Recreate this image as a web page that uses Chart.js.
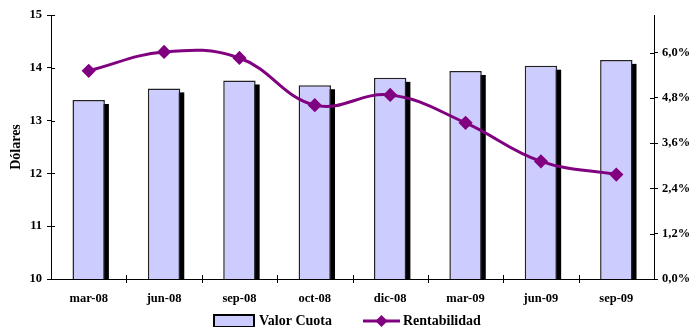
<!DOCTYPE html>
<html>
<head>
<meta charset="utf-8">
<script src="https://cdn.jsdelivr.net/npm/chart.js@4"></script>
<style>
  html, body { margin: 0; padding: 0; background: #fff; }
  #wrap { width: 691px; height: 327px; position: relative; }
</style>
</head>
<body>
<div id="wrap"><canvas id="c"></canvas></div>
<script>
// Periodos trimestrales
const periodos = ['mar-08', 'jun-08', 'sep-08', 'oct-08', 'dic-08', 'mar-09', 'jun-09', 'sep-09'];
// Valor cuota en dólares (eje izquierdo)
const valorCuota = [13.39, 13.61, 13.76, 13.67, 13.81, 13.94, 14.04, 14.15];
// Rentabilidad en % (eje derecho)
const rentabilidad = [5.52, 6.02, 5.86, 4.61, 4.88, 4.14, 3.12, 2.77];
// Marcas de los ejes
const ticksDolares = [10, 11, 12, 13, 14, 15];
const ticksRentabilidad = [0, 1.2, 2.4, 3.6, 4.8, 6.0];

const FONT = '"Liberation Serif", "Times New Roman", serif';
const PURPLE = '#800080';
const BAR_FILL = '#CCCCFF';
const TICK_FONT = { family: FONT, size: 12.5, weight: 'bold' };

// Sombra negra desplazada detrás de cada barra
const barShadow = {
  id: 'barShadow',
  beforeDatasetDraw(chart, args) {
    if (chart.data.datasets[args.index].type !== 'bar') return;
    const ctx = chart.ctx;
    const area = chart.chartArea;
    ctx.save();
    ctx.beginPath();
    ctx.rect(area.left, area.top, area.right - area.left, area.bottom - area.top);
    ctx.clip();
    ctx.fillStyle = '#000';
    args.meta.data.forEach(bar => {
      const p = bar.getProps(['x', 'y', 'base', 'width'], true);
      const left = p.x - p.width / 2 + 4;
      const top = p.y + 4;
      ctx.fillRect(left, top, p.width, p.base - top);
    });
    ctx.restore();
  }
};

// Marcas que cruzan los ejes
const crossTicks = {
  id: 'crossTicks',
  afterDraw(chart) {
    const ctx = chart.ctx;
    const { y, yR, x } = chart.scales;
    ctx.save();
    ctx.strokeStyle = '#000';
    ctx.lineWidth = 1;
    ctx.beginPath();
    y.ticks.forEach((t, i) => {
      const py = Math.round(y.getPixelForTick(i)) + 0.5;
      ctx.moveTo(y.right, py); ctx.lineTo(y.right + 4, py);
    });
    yR.ticks.forEach((t, i) => {
      const py = Math.round(yR.getPixelForTick(i)) + 0.5;
      ctx.moveTo(yR.left - 4, py); ctx.lineTo(yR.left, py);
    });
    const n = x.ticks.length;
    for (let i = 1; i < n; i++) {
      const px = Math.round((x.getPixelForTick(i - 1) + x.getPixelForTick(i)) / 2) + 0.5;
      ctx.moveTo(px, x.top - 4); ctx.lineTo(px, x.top + 4);
    }
    ctx.stroke();
    ctx.restore();
  }
};

// Leyenda inferior: muestra de barra y de línea con rombo
const legendBottom = {
  id: 'legendBottom',
  afterDraw(chart) {
    const ctx = chart.ctx;
    const cy = chart.height - 6;
    ctx.save();
    ctx.font = 'bold 14px ' + FONT;
    ctx.textBaseline = 'middle';
    const t1 = chart.data.datasets[1].label;
    const t2 = chart.data.datasets[0].label;
    const w1 = ctx.measureText(t1).width;
    const w2 = ctx.measureText(t2).width;
    const total = 40 + 5 + w1 + 31 + 37 + 3 + w2;
    let xx = Math.round((chart.width - total) / 2) + 2;
    // muestra de barra
    ctx.fillStyle = BAR_FILL;
    ctx.fillRect(xx, cy - 6, 40, 12);
    ctx.strokeStyle = '#000';
    ctx.lineWidth = 2;
    ctx.strokeRect(xx, cy - 6, 40, 12);
    xx += 45;
    ctx.fillStyle = '#000';
    ctx.fillText(t1, xx, cy);
    xx += w1 + 31;
    // muestra de línea
    ctx.strokeStyle = PURPLE;
    ctx.lineWidth = 3;
    ctx.beginPath(); ctx.moveTo(xx, cy); ctx.lineTo(xx + 37, cy); ctx.stroke();
    ctx.fillStyle = PURPLE;
    const mx = xx + 18.5;
    ctx.beginPath();
    ctx.moveTo(mx, cy - 6); ctx.lineTo(mx + 6, cy); ctx.lineTo(mx, cy + 6); ctx.lineTo(mx - 6, cy);
    ctx.closePath(); ctx.fill();
    xx += 40;
    ctx.fillStyle = '#000';
    ctx.fillText(t2, xx, cy);
    ctx.restore();
  }
};

new Chart(document.getElementById('c'), {
  data: {
    labels: periodos,
    datasets: [
      {
        type: 'line',
        label: 'Rentabilidad',
        data: rentabilidad,
        yAxisID: 'yR',
        borderColor: PURPLE,
        backgroundColor: PURPLE,
        borderWidth: 3,
        tension: 0.4,
        pointStyle: 'rectRot',
        pointRadius: 5,
        pointHoverRadius: 5,
        pointBackgroundColor: PURPLE,
        pointBorderColor: PURPLE,
        order: 0
      },
      {
        type: 'bar',
        label: 'Valor Cuota',
        data: valorCuota,
        yAxisID: 'y',
        backgroundColor: BAR_FILL,
        borderColor: '#222',
        borderWidth: 1.5,
        categoryPercentage: 1,
        barPercentage: 0.43,
        order: 1
      }
    ]
  },
  options: {
    responsive: true,
    maintainAspectRatio: false,
    animation: false,
    layout: { padding: { left: 0, right: 0, top: 15, bottom: 18 } },
    plugins: {
      tooltip: { enabled: false },
      legend: { display: false }
    },
    scales: {
      x: {
        offset: true,
        grid: { display: false, drawOnChartArea: false },
        border: { display: true, color: '#000', width: 1 },
        ticks: { color: '#000', font: TICK_FONT, padding: 4, maxRotation: 0 },
        afterFit(s) { s.height = 30; }
      },
      y: {
        position: 'left',
        min: 10,
        max: 15,
        afterBuildTicks(s) { s.ticks = ticksDolares.map(v => ({ value: v })); },
        grid: { drawOnChartArea: false, drawTicks: true, tickLength: 4, color: '#000' },
        border: { display: true, color: '#000', width: 1 },
        ticks: { color: '#000', font: TICK_FONT, padding: 5 },
        title: { display: true, text: 'Dólares', color: '#000', font: { family: FONT, size: 14, weight: 'bold' }, padding: { top: 8, bottom: 4 } },
        afterFit(s) { s.width = 51; }
      },
      yR: {
        position: 'right',
        min: 0,
        max: 7.0,
        afterBuildTicks(s) { s.ticks = ticksRentabilidad.map(v => ({ value: v })); },
        grid: { drawOnChartArea: false, drawTicks: true, tickLength: 4, color: '#000' },
        border: { display: true, color: '#000', width: 1 },
        ticks: {
          color: '#000',
          font: TICK_FONT,
          padding: 4,
          callback: v => v.toFixed(1).replace('.', ',') + '%'
        },
        afterFit(s) { s.width = 37; }
      }
    }
  },
  plugins: [barShadow, crossTicks, legendBottom]
});
</script>
</body>
</html>
